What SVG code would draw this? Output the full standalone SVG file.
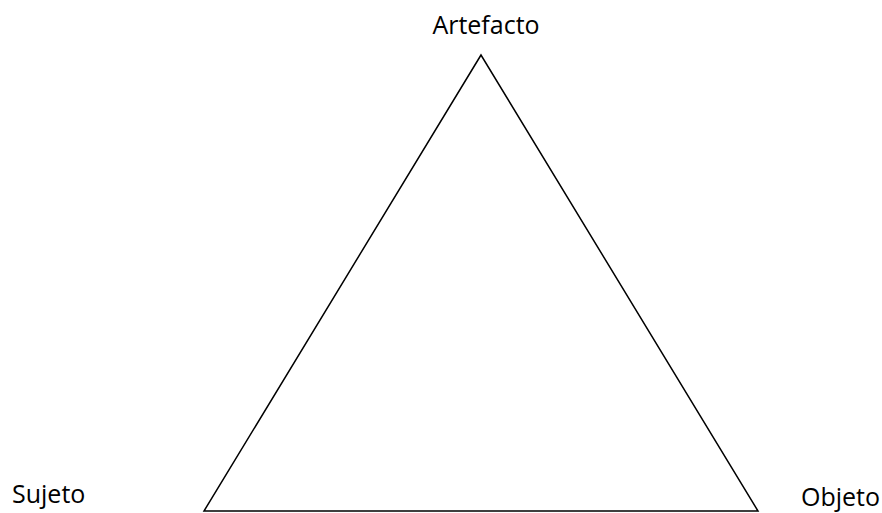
<svg xmlns="http://www.w3.org/2000/svg" width="882" height="513" viewBox="0 0 882 513">
<style>
.lbl{font-family:"Open Sans","Noto Sans",sans-serif;font-size:25px;fill:#000}
.edge{fill:none;stroke:#000;stroke-width:1.5}
</style>
<rect width="882" height="513" fill="#fff"/>
<g id="connectors">
<polygon class="edge" points="481,55 204,511 758,511"/>
</g>
<g id="node-artefacto"><text class="lbl" x="486" y="34" text-anchor="middle">Artefacto</text></g>
<g id="node-sujeto"><text class="lbl" x="12" y="503">Sujeto</text></g>
<g id="node-objeto"><text class="lbl" x="801" y="506">Objeto</text></g>
</svg>
